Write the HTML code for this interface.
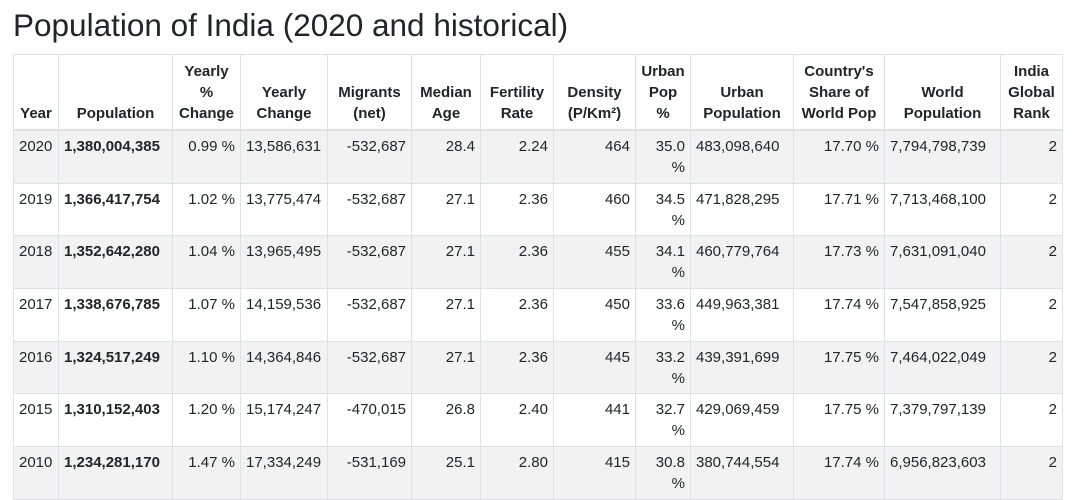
<!DOCTYPE html>
<html><head><meta charset="utf-8"><style>
body{margin:0;background:#fff;width:1080px;height:497px;overflow:hidden;font-family:"Liberation Sans",Arial,sans-serif;color:#212529}
h1{position:absolute;left:13px;top:5px;margin:0;font-weight:normal;font-size:31.5px;line-height:40px;color:#212529}
table{position:absolute;left:13px;top:54px;border-collapse:collapse;table-layout:fixed;width:1049px;font-size:15px}
th,td{border:1px solid #dee2e6;padding:4px 5px;line-height:21px}
th{vertical-align:bottom;text-align:center;font-weight:bold;height:65px;border-bottom:2px solid #dee2e6;padding-bottom:5px}
td{vertical-align:top;height:42px;text-align:right;padding-top:5px;padding-bottom:4.7px}
tbody tr:nth-child(odd){background:#f2f2f2}
td.l{text-align:left}
td b{font-weight:bold}
</style></head><body>
<h1>Population of India (2020 and historical)</h1>
<table>
<colgroup><col style="width:45px"><col style="width:114px"><col style="width:68px"><col style="width:87px"><col style="width:84px"><col style="width:69px"><col style="width:73px"><col style="width:82px"><col style="width:55px"><col style="width:103px"><col style="width:91px"><col style="width:116px"><col style="width:62px"></colgroup>
<thead><tr><th>Year</th><th>Population</th><th>Yearly %<br>Change</th><th>Yearly<br>Change</th><th>Migrants<br>(net)</th><th>Median<br>Age</th><th>Fertility<br>Rate</th><th>Density<br>(P/Km²)</th><th>Urban<br>Pop<br>%</th><th>Urban<br>Population</th><th>Country's<br>Share of<br>World Pop</th><th>World<br>Population</th><th>India<br>Global<br>Rank</th></tr></thead>
<tbody>
<tr><td class="l">2020</td><td class="l"><b>1,380,004,385</b></td><td>0.99 %</td><td class="l">13,586,631</td><td>-532,687</td><td>28.4</td><td>2.24</td><td>464</td><td>35.0 %</td><td class="l">483,098,640</td><td>17.70 %</td><td class="l">7,794,798,739</td><td>2</td></tr>
<tr><td class="l">2019</td><td class="l"><b>1,366,417,754</b></td><td>1.02 %</td><td class="l">13,775,474</td><td>-532,687</td><td>27.1</td><td>2.36</td><td>460</td><td>34.5 %</td><td class="l">471,828,295</td><td>17.71 %</td><td class="l">7,713,468,100</td><td>2</td></tr>
<tr><td class="l">2018</td><td class="l"><b>1,352,642,280</b></td><td>1.04 %</td><td class="l">13,965,495</td><td>-532,687</td><td>27.1</td><td>2.36</td><td>455</td><td>34.1 %</td><td class="l">460,779,764</td><td>17.73 %</td><td class="l">7,631,091,040</td><td>2</td></tr>
<tr><td class="l">2017</td><td class="l"><b>1,338,676,785</b></td><td>1.07 %</td><td class="l">14,159,536</td><td>-532,687</td><td>27.1</td><td>2.36</td><td>450</td><td>33.6 %</td><td class="l">449,963,381</td><td>17.74 %</td><td class="l">7,547,858,925</td><td>2</td></tr>
<tr><td class="l">2016</td><td class="l"><b>1,324,517,249</b></td><td>1.10 %</td><td class="l">14,364,846</td><td>-532,687</td><td>27.1</td><td>2.36</td><td>445</td><td>33.2 %</td><td class="l">439,391,699</td><td>17.75 %</td><td class="l">7,464,022,049</td><td>2</td></tr>
<tr><td class="l">2015</td><td class="l"><b>1,310,152,403</b></td><td>1.20 %</td><td class="l">15,174,247</td><td>-470,015</td><td>26.8</td><td>2.40</td><td>441</td><td>32.7 %</td><td class="l">429,069,459</td><td>17.75 %</td><td class="l">7,379,797,139</td><td>2</td></tr>
<tr><td class="l">2010</td><td class="l"><b>1,234,281,170</b></td><td>1.47 %</td><td class="l">17,334,249</td><td>-531,169</td><td>25.1</td><td>2.80</td><td>415</td><td>30.8 %</td><td class="l">380,744,554</td><td>17.74 %</td><td class="l">6,956,823,603</td><td>2</td></tr>
</tbody></table>
</body></html>
